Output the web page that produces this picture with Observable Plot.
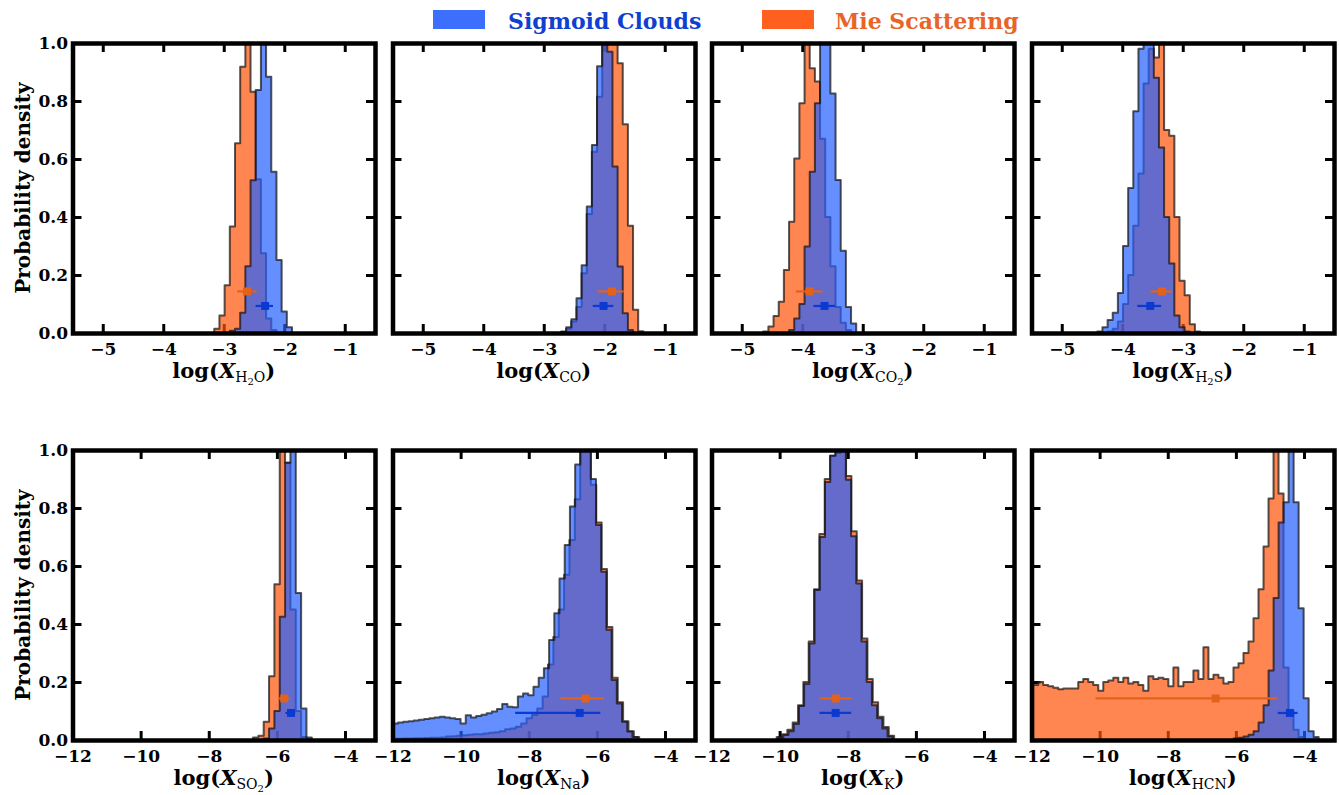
<!DOCTYPE html>
<html><head><meta charset="utf-8">
<script src="https://cdn.jsdelivr.net/npm/d3@7"></script>
<script src="https://cdn.jsdelivr.net/npm/@observablehq/plot@0.6"></script>
<style>
body{margin:0;background:#fff;}
#fig{position:relative;width:1339px;height:795px;overflow:hidden;background:#fff;font-family:'DejaVu Serif',serif;}
#fig svg{position:absolute;}
.legrect{position:absolute;top:10px;width:52px;height:19px;}
.legtext{position:absolute;top:10px;font-size:22px;font-weight:bold;line-height:22px;white-space:nowrap;}
</style></head>
<body><div id="fig">
<div class="legrect" style="left:433px;background:#3d6fff"></div>
<div class="legtext" style="left:508px;color:#1040d0">Sigmoid Clouds</div>
<div class="legrect" style="left:762px;background:#ff5f1f"></div>
<div class="legtext" style="left:835px;color:#e86428">Mie Scattering</div>
</div>
<script>
// ---------- data ----------
const species = ["H2O", "CO", "CO2", "H2S", "SO2", "Na", "K", "HCN"];
const subscriptParts = [
  [["H",0],["2",1],["O",0]], [["CO",0]], [["CO",0],["2",1]], [["H",0],["2",1],["S",0]],
  [["SO",0],["2",1]], [["Na",0]], [["K",0]], [["HCN",0]]
];
const seriesNames = ["Sigmoid Clouds", "Mie Scattering"];
const xTicksTop = [-5, -4, -3, -2, -1];
const xTicksBottom = [-12, -10, -8, -6, -4];
const yTicks = [0, 0.2, 0.4, 0.6, 0.8, 1.0];

// histogram bin starts / widths (log abundance), per species
const sigmoidBinStart = [-2.900, -2.714, -4.218, -4.412, -6.387, -11.99, -10.044, -6.069];
const sigmoidBinWidth = [0.0857, 0.085, 0.0854, 0.0849, 0.1569, 0.1529, 0.1529, 0.147];
const mieBinStart     = [-3.157, -2.714, -4.645, -4.242, -6.701, -12.003, -10.088, -11.951];
const mieBinWidth     = [0.0857, 0.085, 0.0854, 0.0849, 0.1569, 0.1575, 0.1568, 0.147];

// histogram heights (probability density)
const sigmoid_H2O = [0.008, 0.015, 0.07, 0.23, 0.527, 0.838, 1.15, 0.884, 0.556, 0.252, 0.074, 0.02];
const mie_H2O     = [0.015, 0.06, 0.165, 0.367, 0.654, 0.918, 1.15, 0.832, 0.53, 0.275, 0.05, 0.01];
const sigmoid_CO  = [0.005, 0.02, 0.047, 0.12, 0.234, 0.436, 0.648, 0.92, 1.1, 0.97, 0.574, 0.229, 0.068, 0.01];
const mie_CO      = [0.003, 0.015, 0.04, 0.09, 0.206, 0.41, 0.625, 0.815, 1.02, 1.05, 1.08, 0.93, 0.72, 0.37, 0.08, 0.006];
const sigmoid_CO2 = [0.01, 0.05, 0.1, 0.298, 0.556, 0.792, 1.15, 1.05, 0.826, 0.528, 0.284, 0.09, 0.033];
const mie_CO2     = [0.005, 0.022, 0.059, 0.108, 0.217, 0.384, 0.602, 0.792, 1.1, 0.913, 0.867, 0.67, 0.4, 0.23, 0.09, 0.035, 0.01];
const sigmoid_H2S = [0.005, 0.02, 0.045, 0.07, 0.138, 0.3, 0.5, 0.765, 0.98, 1.2, 1.05, 0.88, 0.64, 0.4, 0.24, 0.06, 0.02, 0.005];
const mie_H2S     = [0.005, 0.015, 0.04, 0.1, 0.2, 0.37, 0.55, 0.86, 0.98, 0.95, 1.1, 0.7, 0.68, 0.4, 0.18, 0.13, 0.03, 0.005];
const sigmoid_SO2 = [0.005, 0.04, 0.1, 0.425, 0.956, 1.2, 0.507, 0.109, 0.009];
const mie_SO2     = [0.009, 0.015, 0.063, 0.22, 0.537, 1.2, 0.956, 0.45, 0.1, 0.01];
const sigmoid_Na  = [0.057, 0.06, 0.063, 0.065, 0.067, 0.07, 0.072, 0.075, 0.078, 0.08,
                     0.078, 0.075, 0.072, 0.057, 0.085, 0.078, 0.083, 0.087, 0.092, 0.098,
                     0.107, 0.124, 0.115, 0.113, 0.15, 0.16, 0.154, 0.184, 0.215, 0.247,
                     0.345, 0.437, 0.557, 0.672, 0.805, 0.95, 1.1, 1.02, 0.9, 0.741,
                     0.58, 0.38, 0.207, 0.126, 0.063, 0.029, 0.01];
const mie_Na      = [0.004, 0.004, 0.005, 0.005, 0.006, 0.006, 0.007, 0.008, 0.008, 0.009,
                     0.012, 0.013, 0.015, 0.016, 0.018, 0.02, 0.02, 0.022, 0.025, 0.027,
                     0.03, 0.037, 0.04, 0.046, 0.057, 0.075, 0.086, 0.109, 0.15,
                     0.26, 0.355, 0.45, 0.57, 0.69, 0.83, 1.1, 1.05, 0.88, 0.75, 0.59,
                     0.39, 0.215, 0.13, 0.065, 0.03, 0.01];
const sigmoid_K   = [0.009, 0.017, 0.03, 0.055, 0.117, 0.193, 0.333, 0.517, 0.7, 0.89, 0.98,
                     1.15, 1.05, 0.897, 0.703, 0.54, 0.34, 0.2, 0.12, 0.075, 0.04, 0.012];
const mie_K       = [0.01, 0.02, 0.035, 0.06, 0.12, 0.2, 0.34, 0.52, 0.71, 0.9, 0.98,
                     0.99, 1.1, 0.91, 0.72, 0.55, 0.35, 0.21, 0.13, 0.08, 0.045, 0.015];
const sigmoid_HCN = [0.005, 0.008, 0.012, 0.018, 0.03, 0.06, 0.12, 0.24, 0.49, 0.75, 0.82,
                     1.2, 0.82, 0.454, 0.144, 0.03, 0.01];
const mie_HCN     = [0.19, 0.2, 0.19, 0.185, 0.18, 0.175, 0.178, 0.178, 0.178, 0.2,
                     0.21, 0.2, 0.19, 0.17, 0.2, 0.205, 0.215, 0.2, 0.215, 0.195,
                     0.2, 0.19, 0.17, 0.22, 0.21, 0.215, 0.21, 0.185, 0.25, 0.185,
                     0.2, 0.2, 0.24, 0.21, 0.32, 0.21, 0.225, 0.215, 0.195, 0.2,
                     0.25, 0.265, 0.3, 0.34, 0.42, 0.52, 0.667, 0.833, 1.1, 0.85,
                     0.25, 0.1, 0.035, 0.01];
const sigmoidHeights = [sigmoid_H2O, sigmoid_CO, sigmoid_CO2, sigmoid_H2S, sigmoid_SO2, sigmoid_Na, sigmoid_K, sigmoid_HCN];
const mieHeights     = [mie_H2O, mie_CO, mie_CO2, mie_H2S, mie_SO2, mie_Na, mie_K, mie_HCN];

// median and 1-sigma bounds
const sigmoidMedian = [-2.325, -2.02, -3.64, -3.545, -5.60, -6.52, -8.37, -4.43];
const sigmoidLow    = [-2.474, -2.19, -3.816, -3.752, -5.75, -8.40, -8.83, -4.77];
const sigmoidHigh   = [-2.186, -1.85, -3.458, -3.358, -5.46, -5.90, -7.90, -4.19];
const mieMedian     = [-2.624, -1.88, -3.888, -3.353, -5.80, -6.35, -8.37, -6.61];
const mieLow        = [-2.778, -2.11, -4.107, -3.534, -5.95, -7.07, -8.83, -10.12];
const mieHigh       = [-2.458, -1.68, -3.668, -3.177, -5.62, -5.79, -7.90, -4.79];
const sigmoidErrY = 0.095, mieErrY = 0.145;

// ---------- style / layout ----------
const sigmoidFill = "#2460ff", mieFill = "#ff5205";
const sigmoidErrColor = "#0a3ad2", mieErrColor = "#e2621c";
const colLeft = [72.5, 392, 711.5, 1031];
const rowTop = [43, 450];
const plotW = 302.5, plotH = 290;
const mL = 72.5, mR = 5, mT = 12, mB = 54;
const topDomain = [-5.5, -0.5], bottomDomain = [-12, -3.12];
const tickPx = 9;
const fontFam = "'DejaVu Serif', serif";
const minus = d => (d < 0 ? "\u2212" : "") + Math.abs(d);

function histPoints(start, width, heights) {
  const pts = heights.map((h, i) => ({x: start + i * width, y: h}));
  pts.push({x: start + heights.length * width, y: 0});
  return pts;
}

const fig = document.getElementById("fig");
species.forEach((sp, i) => {
  const row = i < 4 ? 0 : 1, col = i % 4;
  const xDomain = row === 0 ? topDomain : bottomDomain;
  const xTicks = row === 0 ? xTicksTop : xTicksBottom;
  const pxPerUnit = plotW / (xDomain[1] - xDomain[0]);
  const tx = tickPx / pxPerUnit, ty = tickPx / plotH;
  const showY = col === 0;
  const mie = histPoints(mieBinStart[i], mieBinWidth[i], mieHeights[i]);
  const sig = histPoints(sigmoidBinStart[i], sigmoidBinWidth[i], sigmoidHeights[i]);
  const errs = [
    {s: seriesNames[1], c: mieMedian[i], lo: mieLow[i], hi: mieHigh[i], y: mieErrY, color: mieErrColor},
    {s: seriesNames[0], c: sigmoidMedian[i], lo: sigmoidLow[i], hi: sigmoidHigh[i], y: sigmoidErrY, color: sigmoidErrColor}
  ];
  const tickStyle = {stroke: "black", strokeWidth: 3};
  const marks = [
    Plot.ruleX(xTicks, {x: d => d, y1: 0, y2: ty, ...tickStyle}),
    Plot.ruleX(xTicks, {x: d => d, y1: 1 - ty, y2: 1, ...tickStyle}),
    Plot.ruleY(yTicks, {y: d => d, x1: xDomain[0], x2: xDomain[0] + tx, ...tickStyle}),
    Plot.ruleY(yTicks, {y: d => d, x1: xDomain[1] - tx, x2: xDomain[1], ...tickStyle}),
    Plot.areaY(mie, {x: "x", y: "y", curve: "step-after", fill: mieFill, fillOpacity: 0.7,
      stroke: "#111", strokeOpacity: 0.7, strokeWidth: 2, clip: true}),
    Plot.areaY(sig, {x: "x", y: "y", curve: "step-after", fill: sigmoidFill, fillOpacity: 0.7,
      stroke: "#111", strokeOpacity: 0.7, strokeWidth: 2, clip: true}),
    Plot.ruleY(errs, {y: "y", x1: "lo", x2: "hi", stroke: d => d.color, strokeWidth: 2.2}),
    Plot.dot(errs, {x: "c", y: "y", symbol: "square", r: 4.5, fill: d => d.color, stroke: null}),
    Plot.frame({stroke: "black", strokeWidth: 4.5}),
    Plot.axisX(xTicks, {tickSize: 0, tickPadding: 9, tickFormat: minus, label: null})
  ];
  if (showY) marks.push(Plot.axisY(yTicks, {tickSize: 0, tickPadding: 5, tickFormat: d => d.toFixed(1), label: null}));
  const svg = Plot.plot({
    width: mL + plotW + mR,
    height: mT + plotH + mB,
    marginLeft: mL, marginRight: mR, marginTop: mT, marginBottom: mB,
    x: {domain: xDomain},
    y: showY ? {domain: [0, 1]} : {domain: [0, 1], axis: null},
    color: {type: "identity"},
    style: {fontFamily: fontFam, fontSize: "17px", fontWeight: "bold",
            background: "transparent", overflow: "visible", color: "black"},
    marks
  });
  svg.style.left = (colLeft[col] - mL) + "px";
  svg.style.top = (rowTop[row] - mT) + "px";
  fig.appendChild(svg);

  // axis label with subscripts
  const s = d3.select(svg);
  const t = s.append("text")
    .attr("x", mL + plotW / 2).attr("y", mT + plotH + 45)
    .attr("text-anchor", "middle").attr("font-family", fontFam)
    .attr("font-size", 21).attr("font-weight", "bold").attr("fill", "black");
  t.append("tspan").text("log(");
  t.append("tspan").attr("font-style", "italic").text("X");
  let level = 0;
  subscriptParts[i].forEach(([txt, deep]) => {
    const target = deep ? 7 : 4;
    t.append("tspan").attr("dy", target - level).attr("font-size", deep ? 10 : 14)
      .attr("font-weight", "normal").text(txt);
    level = target;
  });
  t.append("tspan").attr("dy", -level).text(")");

  if (showY) {
    s.append("text")
      .attr("transform", `translate(23, ${mT + plotH / 2}) rotate(-90)`)
      .attr("text-anchor", "middle").attr("dominant-baseline", "central")
      .attr("font-family", fontFam).attr("font-size", 20).attr("font-weight", "bold")
      .attr("fill", "black").text("Probability density");
  }
});
</script>
</body></html>
